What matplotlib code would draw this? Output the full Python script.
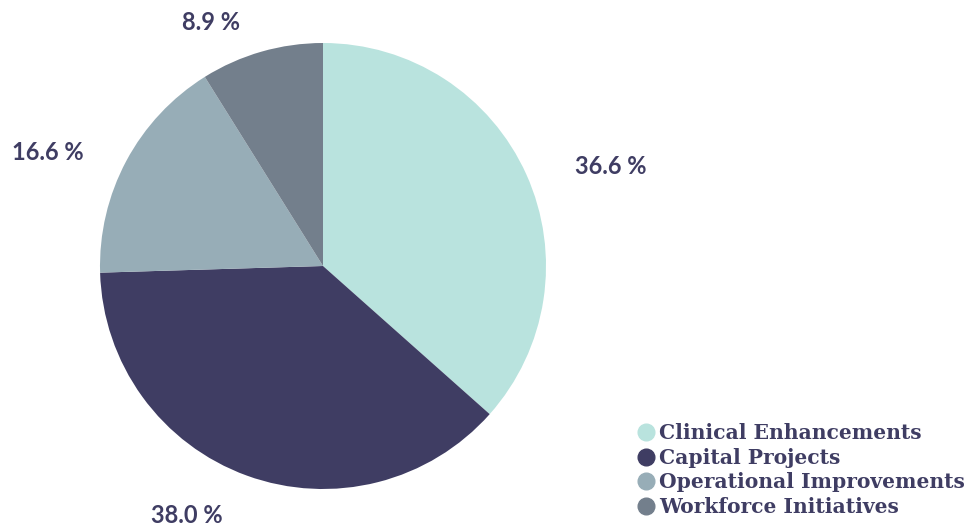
import matplotlib.pyplot as plt
from matplotlib.lines import Line2D

# --- data ---
categories = ["Clinical Enhancements", "Capital Projects",
              "Operational Improvements", "Workforce Initiatives"]
shares = [36.6, 38.0, 16.6, 8.9]
colors = ["#b9e3de", "#3f3d63", "#97adb7", "#737f8c"]

# label anchor points, in pie-radius units (layout only)
label_pos = [(1.291, 0.444), (-0.610, -1.117), (-1.233, 0.511), (-0.502, 1.094)]

text_color = "#3f3d63"

fig = plt.figure(figsize=(9.8, 5.27), dpi=100)
ax = fig.add_axes([100 / 980, 38 / 527, 446 / 980, 446 / 527])

ax.pie(shares, colors=colors, startangle=90, counterclock=False,
       radius=1.0, wedgeprops=dict(linewidth=0))
ax.set_xlim(-1, 1)
ax.set_ylim(-1, 1)
ax.set_aspect("equal")
ax.axis("off")

for val, (x, y) in zip(shares, label_pos):
    ax.text(x, y, f"{val:.1f} %", ha="center", va="center",
            fontsize=17, fontfamily="Lato", fontweight="bold",
            color=text_color, clip_on=False)

handles = [Line2D([0], [0], marker="o", linestyle="", markersize=12,
                  markerfacecolor=c, markeredgecolor=c) for c in colors]
fig.legend(handles, categories, loc="lower left",
           bbox_to_anchor=(625 / 980, -4 / 527), frameon=False,
           handlelength=0.7, handletextpad=0.3, labelspacing=0.22,
           borderpad=0.2,
           prop=dict(family="DejaVu Serif", weight="bold", size=14.6),
           labelcolor=text_color)

fig.savefig("out.png", dpi=100)
